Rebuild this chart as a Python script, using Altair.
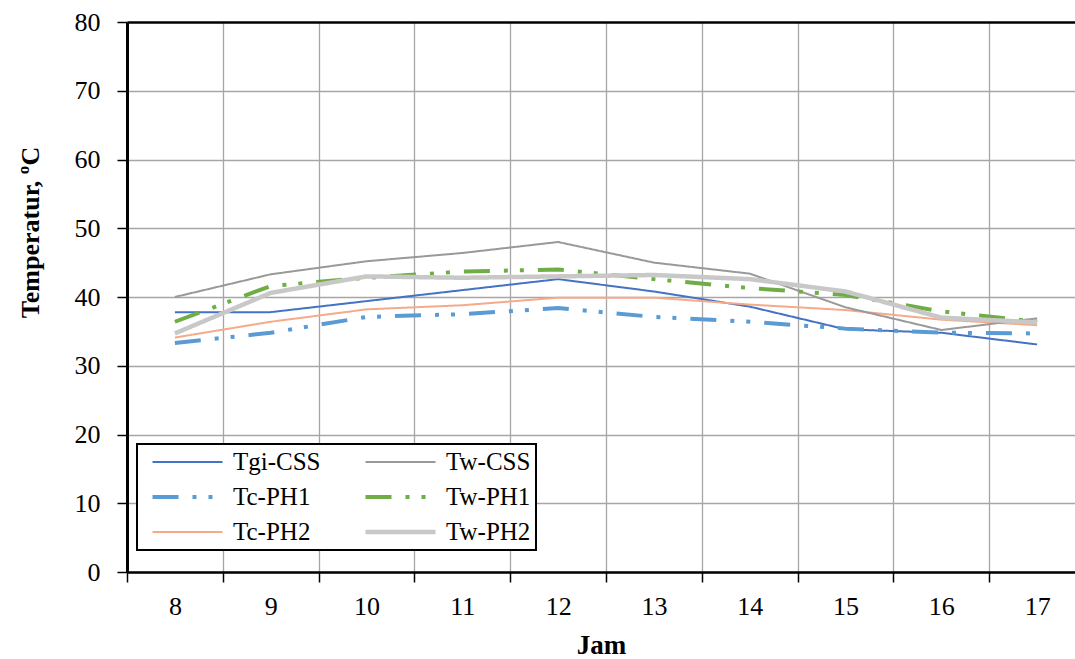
import altair as alt
import pandas as pd

hours = [8, 9, 10, 11, 12, 13, 14, 15, 16, 17]
# order chosen so the column-major legend shows Tgi-CSS / Tw-CSS in the first row
series_names = ["Tgi-CSS", "Tc-PH1", "Tc-PH2", "Tw-CSS", "Tw-PH1", "Tw-PH2"]

tgi_css = [37.8, 37.8, 39.4, 41.0, 42.6, 40.8, 38.6, 35.3, 34.8, 33.1]
tc_ph1 = [33.3, 34.8, 37.1, 37.5, 38.4, 37.1, 36.4, 35.4, 34.8, 34.7]
tc_ph2 = [34.1, 36.4, 38.2, 38.8, 39.9, 39.9, 38.9, 38.1, 36.7, 35.9]
tw_css = [40.0, 43.3, 45.2, 46.4, 48.0, 45.0, 43.4, 38.5, 35.2, 36.9]
tw_ph1 = [36.4, 41.6, 42.8, 43.7, 44.0, 42.6, 41.3, 40.3, 37.9, 36.4]
tw_ph2 = [34.7, 40.6, 43.0, 42.8, 43.0, 43.2, 42.6, 40.8, 37.0, 36.3]

colors = ["#4472C4", "#5B9BD5", "#F5AA8A", "#999999", "#70AD47", "#C8C8C8"]
widths = [2, 4, 2, 2, 4, 4.5]
dashes = [[1, 0], [26, 14, 4, 12, 4, 14], [1, 0], [1, 0], [26, 14, 4, 12, 4, 14], [1, 0]]

x_tick_values = [7.5 + 0.5 * i for i in range(20)]
y_tick_values = [0, 10, 20, 30, 40, 50, 60, 70, 80]

rows = []
for name, vals in zip(series_names, [tgi_css, tc_ph1, tc_ph2, tw_css, tw_ph1, tw_ph2]):
    for h, v in zip(hours, vals):
        rows.append({"Jam": h, "Temp": v, "Seri": name})
df = pd.DataFrame(rows)

FONT = "Liberation Serif"

legend_common = alt.Legend(
    title=None,
    orient="none",
    legendX=10,
    legendY=422,
    columns=2,
    symbolType="stroke",
    symbolSize=4900,
    symbolOffset=8,
    clipHeight=26,
    rowPadding=9,
    columnPadding=34,
    padding=5,
    labelOffset=8,
    labelFont=FONT,
    labelFontSize=25,
    labelColor="black",
    strokeColor="black",
    fillColor="white",
)

x_axis = alt.Axis(
    values=x_tick_values,
    title="Jam",
    titleFont=FONT,
    titleFontSize=27,
    titleFontWeight="bold",
    titleColor="black",
    titleY=81,
    titleBaseline="alphabetic",
    labelExpr="datum.value % 1 === 0 ? format(datum.value, 'd') : ''",
    labelFont=FONT,
    labelFontSize=26,
    labelColor="black",
    labelPadding=11,
    labelFlush=False,
    labelOverlap=False,
    tickSize=10,
    tickColor="black",
    tickWidth=1.5,
    tickOpacity={"condition": {"test": "datum.value % 1 === 0", "value": 0}, "value": 1},
    grid=True,
    gridColor="#A6A6A6",
    gridWidth=1.3,
    gridOpacity={"condition": {"test": "datum.value % 1 === 0", "value": 0}, "value": 1},
    domainColor="black",
    domainWidth=2.5,
)

y_axis = alt.Axis(
    values=y_tick_values,
    title="Temperatur, ºC",
    titleFont=FONT,
    titleFontSize=26,
    titleFontWeight="bold",
    titleColor="black",
    titleX=-97,
    titleY=210,
    titleAlign="center",
    titleBaseline="middle",
    labelFont=FONT,
    labelFontSize=26,
    labelColor="black",
    labelPadding=17,
    tickSize=10,
    tickColor="black",
    tickWidth=1.5,
    grid=True,
    gridColor={"condition": {"test": "datum.value === 80", "value": "black"}, "value": "#A6A6A6"},
    gridWidth={"condition": {"test": "datum.value === 80", "value": 2.5}, "value": 1.3},
    domainColor="black",
    domainWidth=3,
)

chart = (
    alt.Chart(df)
    .mark_line(strokeCap="butt", strokeJoin="round")
    .encode(
        x=alt.X("Jam:Q", scale=alt.Scale(domain=[7.5, 17.395], nice=False, zero=False), axis=x_axis),
        y=alt.Y("Temp:Q", scale=alt.Scale(domain=[0, 80], nice=False, zero=True), axis=y_axis),
        color=alt.Color("Seri:N", scale=alt.Scale(domain=series_names, range=colors), legend=legend_common),
        strokeDash=alt.StrokeDash("Seri:N", scale=alt.Scale(domain=series_names, range=dashes), legend=legend_common),
        strokeWidth=alt.StrokeWidth("Seri:N", scale=alt.Scale(type="ordinal", domain=series_names, range=widths), legend=legend_common),
    )
    .properties(
        width=948,
        height=550,
        autosize=alt.AutoSizeParams(type="none"),
        padding={"left": 127, "top": 22, "right": 0, "bottom": 87},
        background="white",
    )
    .configure_view(stroke="transparent")
    .configure_legend(strokeWidth=2)
)

chart.save("out.html", embed_options={"renderer": "svg", "actions": False})
